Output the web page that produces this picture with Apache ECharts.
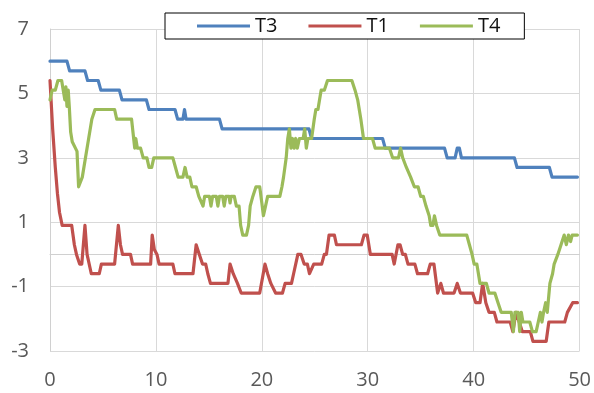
<!DOCTYPE html>
<html>
<head>
<meta charset="utf-8">
<script src="https://cdn.jsdelivr.net/npm/echarts@6/dist/echarts.min.js"></script>
<style>html,body{margin:0;padding:0;background:#fff;}#c{width:594px;height:393px;}</style>
</head>
<body>
<div id="c"></div>
<script>
const seriesNames = ['T3', 'T1', 'T4'];
const xTicks = [0, 10, 20, 30, 40, 50];
const yTicks = [-3, -1, 1, 3, 5, 7];

const t3 = [[0,6.0],[1.6,6.0],[1.85,5.7],[3.3,5.7],[3.55,5.4],[4.55,5.4],[4.8,5.1],[6.55,5.1],[6.8,4.8],[9.1,4.8],[9.35,4.5],[11.8,4.5],[12.05,4.2],[12.55,4.2],[12.7,4.5],[12.85,4.2],[16.0,4.2],[16.25,3.9],[24.45,3.9],[24.7,3.6],[31.4,3.6],[31.65,3.3],[37.25,3.3],[37.5,3.0],[38.25,3.0],[38.45,3.3],[38.65,3.3],[38.85,3.0],[43.85,3.0],[44.1,2.7],[47.15,2.7],[47.4,2.4],[49.8,2.4]];

const t1 = [[0,5.4],[0.25,3.9],[0.5,2.7],[0.7,1.9],[0.9,1.3],[1.15,0.9],[2.05,0.9],[2.3,0.3],[2.5,0.0],[2.8,-0.3],[3.0,-0.3],[3.3,0.9],[3.5,0.0],[3.9,-0.6],[4.65,-0.6],[4.85,-0.3],[6.1,-0.3],[6.45,0.9],[6.65,0.3],[6.85,0.0],[7.6,0.0],[7.8,-0.3],[9.5,-0.3],[9.65,0.6],[9.85,0.15],[10.1,0.0],[10.3,-0.3],[11.6,-0.3],[11.8,-0.6],[13.5,-0.6],[13.8,0.3],[14.1,0.0],[14.4,-0.3],[14.7,-0.3],[14.9,-0.6],[15.15,-0.9],[16.8,-0.9],[17.0,-0.3],[17.3,-0.6],[17.7,-0.9],[18.05,-1.2],[19.8,-1.2],[20.3,-0.3],[20.55,-0.6],[20.85,-0.9],[21.3,-1.2],[21.95,-1.2],[22.2,-0.9],[22.8,-0.9],[23.0,-0.6],[23.4,0.0],[23.7,0.0],[24.0,-0.3],[24.3,-0.3],[24.5,-0.6],[24.65,-0.6],[24.9,-0.3],[25.65,-0.3],[25.9,0.0],[26.1,0.0],[26.35,0.6],[26.85,0.6],[27.05,0.3],[29.4,0.3],[29.65,0.6],[29.95,0.6],[30.25,0.0],[32.3,0.0],[32.5,-0.3],[32.85,0.3],[33.05,0.3],[33.3,0.0],[33.55,0.0],[33.8,-0.3],[34.45,-0.3],[34.7,-0.6],[35.65,-0.6],[35.9,-0.3],[36.25,-0.3],[36.6,-1.2],[36.9,-0.9],[37.15,-1.2],[38.15,-1.2],[38.45,-0.9],[38.75,-1.2],[39.9,-1.2],[40.2,-1.5],[40.6,-1.5],[40.85,-0.9],[41.15,-1.5],[41.45,-1.8],[41.95,-1.8],[42.2,-2.1],[43.45,-2.1],[43.7,-2.4],[44.0,-1.8],[44.3,-2.1],[44.6,-2.4],[45.35,-2.4],[45.6,-2.7],[46.85,-2.7],[47.1,-2.1],[48.6,-2.1],[48.85,-1.8],[49.35,-1.5],[49.8,-1.5]];

const t4 = [[0,4.8],[0.2,5.1],[0.5,5.1],[0.75,5.4],[1.1,5.4],[1.25,5.1],[1.4,4.8],[1.5,5.2],[1.6,4.6],[1.72,5.1],[1.82,4.6],[1.95,3.8],[2.1,3.5],[2.4,3.3],[2.55,3.2],[2.7,2.1],[2.85,2.1],[3.05,2.4],[3.35,3.0],[3.65,3.6],[3.95,4.2],[4.25,4.5],[6.1,4.5],[6.3,4.2],[7.7,4.2],[7.9,3.6],[8.0,3.3],[8.1,3.6],[8.25,3.3],[8.55,3.3],[8.8,3.0],[9.15,3.0],[9.35,2.7],[9.6,2.7],[9.8,3.0],[11.6,3.0],[11.85,2.7],[12.1,2.4],[12.55,2.4],[12.75,2.7],[12.95,2.4],[13.2,2.4],[13.4,2.1],[13.8,2.1],[14.05,1.8],[14.15,1.8],[14.45,1.5],[14.6,1.8],[15.05,1.8],[15.2,1.5],[15.35,1.8],[15.7,1.8],[15.85,1.5],[16.0,1.8],[16.3,1.8],[16.45,1.5],[16.6,1.8],[16.9,1.8],[17.0,1.6],[17.1,1.8],[17.4,1.8],[17.6,1.5],[17.85,1.5],[18.0,0.9],[18.2,0.6],[18.55,0.6],[18.75,0.9],[18.9,1.5],[19.15,1.8],[19.45,2.1],[19.8,2.1],[20.0,1.6],[20.15,1.2],[20.35,1.5],[20.55,1.8],[21.7,1.8],[21.9,2.1],[22.05,2.4],[22.2,2.4],[22.3,3.0],[22.45,3.6],[22.6,3.9],[22.75,3.3],[22.9,3.6],[23.05,3.3],[23.2,3.6],[23.35,3.3],[23.55,3.6],[23.9,3.6],[24.05,3.9],[24.2,3.3],[24.35,3.6],[24.7,3.6],[24.95,4.2],[25.1,4.5],[25.3,4.5],[25.45,4.8],[25.6,5.1],[25.9,5.1],[26.2,5.4],[28.5,5.4],[28.8,5.1],[29.05,4.8],[29.35,4.2],[29.6,3.6],[30.45,3.6],[30.7,3.3],[32.05,3.3],[32.35,3.0],[32.9,3.0],[33.1,3.3],[33.3,3.0],[33.65,2.7],[34.05,2.4],[34.4,2.1],[34.75,2.1],[35.0,1.8],[35.25,1.8],[35.5,1.5],[35.8,1.2],[35.95,0.9],[36.15,0.9],[36.3,1.2],[36.5,0.9],[36.8,0.6],[39.35,0.6],[39.6,0.3],[39.85,0.0],[40.05,-0.3],[40.3,-0.3],[40.6,-0.9],[41.2,-0.9],[41.45,-1.2],[42.0,-1.2],[42.3,-1.5],[42.6,-1.8],[43.55,-1.8],[43.75,-2.4],[43.9,-1.8],[44.2,-1.8],[44.35,-2.4],[44.5,-1.8],[44.65,-2.1],[45.3,-2.1],[45.55,-2.4],[45.9,-2.4],[46.1,-2.1],[46.3,-1.8],[46.45,-2.1],[46.6,-1.8],[46.8,-1.5],[46.95,-1.8],[47.2,-0.9],[47.45,-0.6],[47.6,-0.3],[47.95,0.0],[48.25,0.3],[48.55,0.6],[48.75,0.3],[48.95,0.6],[49.05,0.6],[49.15,0.4],[49.3,0.6],[49.8,0.6]];

const colors = ['#4f81bd', '#c0504d', '#9bbb59'];
const seriesData = [t3, t1, t4];
const FONT = '"Open Sans", "DejaVu Sans", sans-serif';

const chart = echarts.init(document.getElementById('c'), null, {renderer: 'canvas'});
chart.setOption({
  animation: false,
  backgroundColor: '#ffffff',
  grid: {left: 50, right: 14, top: 29, bottom: 42, containLabel: false},
  legend: {
    data: seriesNames,
    left: 165, top: 13,
    padding: [3, 24, 3, 32],
    itemGap: 31,
    itemWidth: 53, itemHeight: 3,
    icon: 'rect',
    borderColor: '#000', borderWidth: 1,
    backgroundColor: '#fff',
    textStyle: {fontFamily: FONT, fontSize: 20, color: '#111'}
  },
  xAxis: {
    type: 'value', min: xTicks[0], max: xTicks[xTicks.length - 1], interval: 10,
    axisLine: {show: true, lineStyle: {color: '#d0d0d0', width: 1}},
    axisTick: {show: false},
    splitLine: {show: true, lineStyle: {color: '#d9d9d9', width: 1}},
    axisLabel: {fontFamily: FONT, fontSize: 20, color: '#595959', margin: 19}
  },
  yAxis: {
    type: 'value', min: yTicks[0], max: yTicks[yTicks.length - 1], interval: 2,
    axisLine: {show: true, lineStyle: {color: '#d0d0d0', width: 1}},
    axisTick: {show: false},
    splitLine: {show: true, lineStyle: {color: '#d9d9d9', width: 1}},
    axisLabel: {fontFamily: FONT, fontSize: 20, color: '#595959', margin: 21}
  },
  series: seriesNames.map((n, i) => ({
    name: n, type: 'line', data: seriesData[i],
    showSymbol: false, symbol: 'none',
    color: colors[i],
    lineStyle: {color: colors[i], width: 3.2, join: 'round', cap: 'round'},
    itemStyle: {color: colors[i]}
  }))
});
</script>
</body>
</html>
